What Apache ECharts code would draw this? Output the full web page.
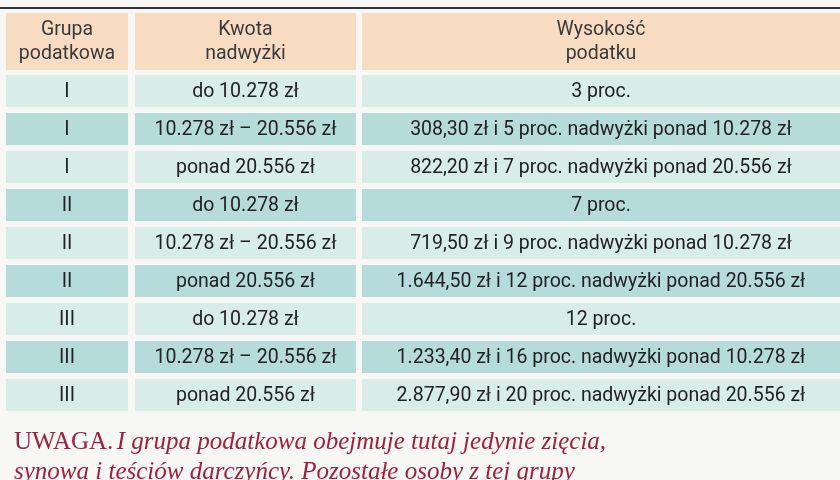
<!DOCTYPE html><html><head><meta charset="utf-8"><script src="https://cdn.jsdelivr.net/npm/echarts@6/dist/echarts.min.js"></script>
<style>html,body{margin:0;background:#f7f7f5}#c{width:840px;height:480px}</style></head><body><div id="c"></div><script>
const headers=["Grupa\npodatkowa","Kwota\nnadwyżki","Wysokość\npodatku"];
const groups=["I","I","I","II","II","II","III","III","III"];
const amounts=["do 10.278 zł","10.278 zł – 20.556 zł","ponad 20.556 zł","do 10.278 zł","10.278 zł – 20.556 zł","ponad 20.556 zł","do 10.278 zł","10.278 zł – 20.556 zł","ponad 20.556 zł"];
const taxes=["3 proc.","308,30 zł i 5 proc. nadwyżki ponad 10.278 zł","822,20 zł i 7 proc. nadwyżki ponad 20.556 zł","7 proc.","719,50 zł i 9 proc. nadwyżki ponad 10.278 zł","1.644,50 zł i 12 proc. nadwyżki ponad 20.556 zł","12 proc.","1.233,40 zł i 16 proc. nadwyżki ponad 10.278 zł","2.877,90 zł i 20 proc. nadwyżki ponad 20.556 zł"];
const cols=[[6,128],[135,356],[362,840]];
const cells=[];
headers.forEach((h,c)=>cells.push({value:[c,-1],text:h}));
[groups,amounts,taxes].forEach((arr,c)=>arr.forEach((t,r)=>cells.push({value:[c,r],text:t})));
const chart=echarts.init(document.getElementById('c'));
chart.setOption({animation:false,
grid:{left:0,right:0,top:0,bottom:0},
xAxis:{type:'value',min:0,max:840,show:false},
yAxis:{type:'value',min:0,max:480,inverse:true,show:false},
series:[{type:'custom',data:cells,renderItem:function(p,api){
 const c=api.value(0),r=api.value(1);const d=cells[p.dataIndex];
 const y0=r<0?13:75+38*r, y1=r<0?70:y0+32;
 const a=api.coord([cols[c][0],y0]),b=api.coord([cols[c][1],y1]);
 const fill=r<0?'#f7dcc2':(r%2===0?'#d8ede8':'#b5dcd9');
 return {type:'group',children:[
  {type:'rect',shape:{x:a[0],y:a[1],width:b[0]-a[0],height:b[1]-a[1]},style:{fill:fill}},
  {type:'text',style:{text:d.text,x:(a[0]+b[0])/2,y:(a[1]+b[1])/2+1,align:'center',verticalAlign:'middle',fill:r<0?'#3a3a3a':'#222',font:'19.5px Roboto, sans-serif',lineHeight:24}}
 ]};
}}],
graphic:[
 {type:'rect',shape:{x:0,y:7,width:840,height:2},style:{fill:'#333'}},
 {type:'text',left:14,top:427,style:{rich:{a:{fill:'#a01f3c',font:'25px "Liberation Serif", serif'},b:{fill:'#a01f3c',font:'italic 25px "Liberation Serif", serif'}},text:'{a|UWAGA.} {b|I grupa podatkowa obejmuje tutaj jedynie zięcia,}\n{b|synowa i teściów darczyńcy. Pozostałe osoby z tej grupy}',lineHeight:30}}
]});
</script></body></html>
